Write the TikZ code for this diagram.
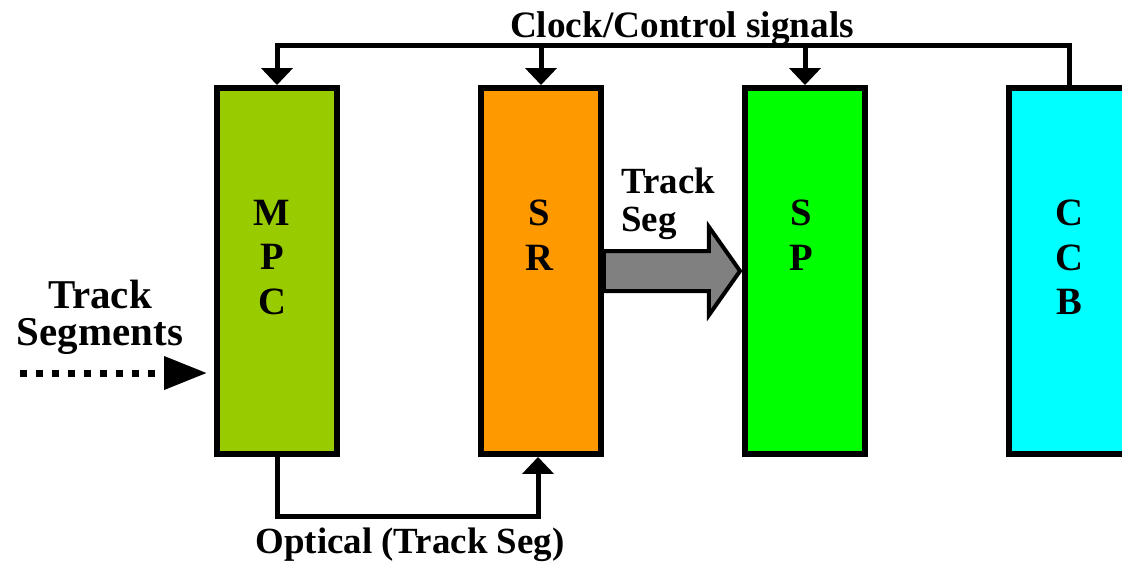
\documentclass[tikz,border=0pt]{standalone}
\usepackage{fontspec}
\setmainfont{Liberation Serif}
\usetikzlibrary{arrows.meta, calc, positioning}
\definecolor{mpcgreen}{HTML}{99CC00}
\definecolor{srorange}{HTML}{FF9900}
\definecolor{spgreen}{HTML}{00FF00}
\definecolor{ccbcyan}{HTML}{00FFFF}
\definecolor{seggray}{HTML}{808080}
\tikzset{
  board/.style={draw, line width=0.12cm, minimum width=2.4cm, minimum height=7.32cm, inner sep=0pt},
  tag/.style={anchor=north, align=center, inner sep=0pt, font=\fontsize{22}{25.2}\selectfont\bfseries},
  lbl/.style={inner sep=0pt, font=\fontsize{21}{21.5}\selectfont\bfseries},
  sig/.style={line width=0.1cm, -{Triangle[length=0.34cm, width=0.62cm]}},
  feedline/.style={line width=0.14cm, dash pattern=on 0.14cm off 0.18cm,
    -{Triangle[length=0.86cm, width=0.64cm]}},
  segarrow/.style={draw, fill=seggray, line width=0.08cm}}

\begin{document}
\begin{tikzpicture}[x=0.02cm, y=-0.02cm]
  \useasboundingbox (0,0) rectangle (1122,569);
  % the four boards
  \node[board, fill=mpcgreen] (mpc) at (277,271) {};
  \node[board, fill=srorange] (sr) at (541,271) {};
  \node[board, fill=spgreen] (sp) at (805,271) {};
  \node[board, fill=ccbcyan] (ccb) at (1069,271) {};
  \node[tag] (mpctag) at ($(mpc.north)+(-5,115)$) {M\\P\\C};
  \node[tag] (srtag) at ($(sr.north)+(-2,115)$) {S\\R};
  \node[tag] (sptag) at ($(sp.north)+(-4,115)$) {S\\P};
  \node[tag] (ccbtag) at ($(ccb.north)+(0,115)$) {C\\C\\B};

  % clock/control bus
  \draw[sig] (ccb.north) -- ++(0,-39.5) coordinate (clk) -| (mpc.north);
  \draw[sig] (sr.north |- clk) -- (sr.north);
  \draw[sig] (sp.north |- clk) -- (sp.north);
  \node[lbl, font=\fontsize{21.2}{21.5}\selectfont\bfseries, anchor=base] (clklbl) at (682,37) {Clock/Control signals};

  % optical link MPC -> SR
  \draw[sig] (mpc.south) -- ++(0,59.5) -| ($(sr.south)+(-3,0)$);
  \node[lbl, anchor=base] (optlbl) at (410,553) {Optical (Track Seg)};

  % track segments SR -> SP
  \draw[segarrow] ($(sr.east)+(0,-20)$) -- ++(105,0) -- ++(0,-24)
    -- ($(sp.west)+(-2,0)$) -- ($(sr.east)+(105,44)$) -- ++(0,-24)
    -- ($(sr.east)+(0,20)$) -- cycle;
  \node[lbl, align=left, anchor=north west] (seglbl) at (621,168) {Track\\Seg};

  % incoming segments
  \coordinate (feed) at (20,373);
  \draw[feedline] (feed) -- ($(mpc.west |- feed)+(-7,0)$);
  \node[lbl, align=center, font=\fontsize{23.3}{21}\selectfont\bfseries] (inlbl) at (100,317) {Track\\Segments};
\end{tikzpicture}
\end{document}
